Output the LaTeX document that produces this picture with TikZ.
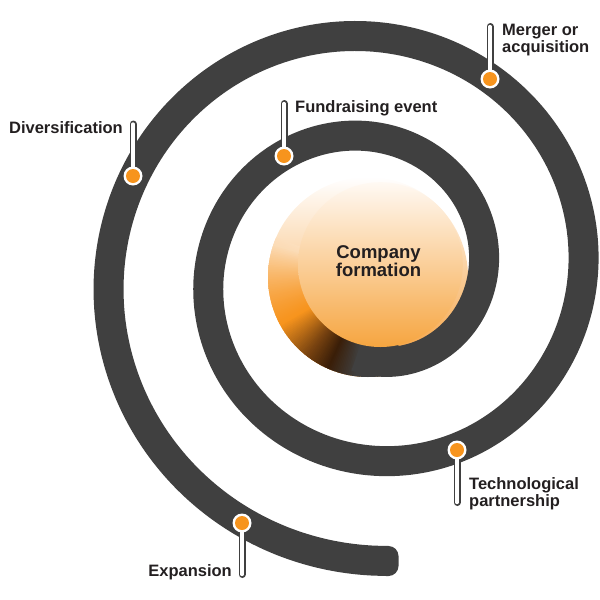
\documentclass[tikz,border=0pt]{standalone}
\usepackage{fontspec}
\setmainfont{Liberation Sans}
\definecolor{bandgray}{HTML}{404040}
\definecolor{dotorange}{HTML}{F7941D}
\definecolor{txt}{HTML}{231F20}
\definecolor{orA}{HTML}{F7941D}
\definecolor{brA}{HTML}{7A4410}
\definecolor{brB}{HTML}{3A1E08}
\definecolor{bigtop}{HTML}{FFFFFF}
\definecolor{bigbot}{HTML}{F59A30}
\definecolor{intop}{HTML}{FFF9F3}
\definecolor{inbot}{HTML}{F6A540}
\begin{document}
\begin{tikzpicture}[x=1pt,y=-1pt,
  band/.style={draw=bandgray, line width=30pt, line join=round},
  stemo/.style={draw=bandgray, line width=7pt, line cap=round},
  stemi/.style={draw=white, line width=3.2pt, line cap=round},
  lab/.style={font=\fontsize{16.5}{17}\selectfont\bfseries, text=txt, inner sep=0pt},
  ctext/.style={font=\fontsize{18.5}{18}\selectfont\bfseries, text=txt, inner sep=0pt, align=center}]
\useasboundingbox (0,0) rectangle (600,600);
% big centre disc
\shade[top color=bigtop, bottom color=bigbot] (368,277) circle[radius=100pt];
% start of the spiral fading into the disc
\begin{scope}
\clip (368,277) circle[radius=100pt];
\foreach \a in {-200,-199,...,-70}{
  \pgfmathsetmacro{\fb}{min(100,max(0,((273.5-95*sin(\a))-177)/2))}
  \pgfmathsetmacro{\ta}{min(100,max(0,(\a+196)/46*100))}
  \pgfmathsetmacro{\tb}{min(100,max(0,(\a+150)/22*100))}
  \pgfmathsetmacro{\tc}{min(100,max(0,(\a+128)/14*100))}
  \pgfmathsetmacro{\td}{min(100,max(0,(\a+114)/16*100))}
  \colorlet{wbase}{bigbot!\fb!bigtop}
  \colorlet{wa}{orA!\ta!wbase}
  \colorlet{wb}{brA!\tb!wa}
  \colorlet{wc}{brB!\tc!wb}
  \colorlet{wd}{bandgray!\td!wc}
  \fill[wd] (371,273.5) -- ({371+140*cos(\a-0.8)},{273.5-140*sin(\a-0.8)}) -- ({371+140*cos(\a+0.8)},{273.5-140*sin(\a+0.8)}) -- cycle;
}
\end{scope}
% spiral band
\draw[band] plot[domain=-100:633.5, samples=240, smooth, variable=\t]
  ({371+(112+\t*25/90)*cos(\t)}, {273.5-(112+\t*25/90)*sin(\t)});
\coordinate (send) at (376,546);
\fill[bandgray, rounded corners=10pt] (send) rectangle (398.5,576);
% inner disc
\shade[top color=intop, bottom color=inbot] (380.4,264.6) circle[radius=82.4pt];
\node[ctext, anchor=north] (formation) at (378.5,245.5) {Company\\formation};
% milestones
\coordinate (dm) at (490,79);   \coordinate (sm) at (490,26.5);
\coordinate (df) at (284,156);  \coordinate (sf) at (284,103.5);
\coordinate (dd) at (133,176);  \coordinate (sd) at (133,124);
\coordinate (dt) at (457,450);  \coordinate (st) at (457,502.5);
\coordinate (de) at (242,523);  \coordinate (se) at (242,574.5);
\foreach \d/\s in {dm/sm, df/sf, dd/sd, dt/st, de/se}{
  \draw[stemo] (\d) -- (\s);
  \draw[stemi] (\d) -- (\s);
  \fill[white] (\d) circle[radius=9.5pt];
  \fill[dotorange] (\d) circle[radius=7pt];
}
\node[lab, anchor=north west, align=left] (merger) at (502,23.5) {Merger or\\acquisition};
\node[lab, anchor=base west] (fund) at (295,112) {Fundraising event};
\node[lab, anchor=base east] (div) at (123,133) {Diversification};
\node[lab, anchor=north west, align=left] (tech) at (469,477.5) {Technological\\partnership};
\node[lab, anchor=base east] (exp) at (232,576) {Expansion};
\end{tikzpicture}
\end{document}
